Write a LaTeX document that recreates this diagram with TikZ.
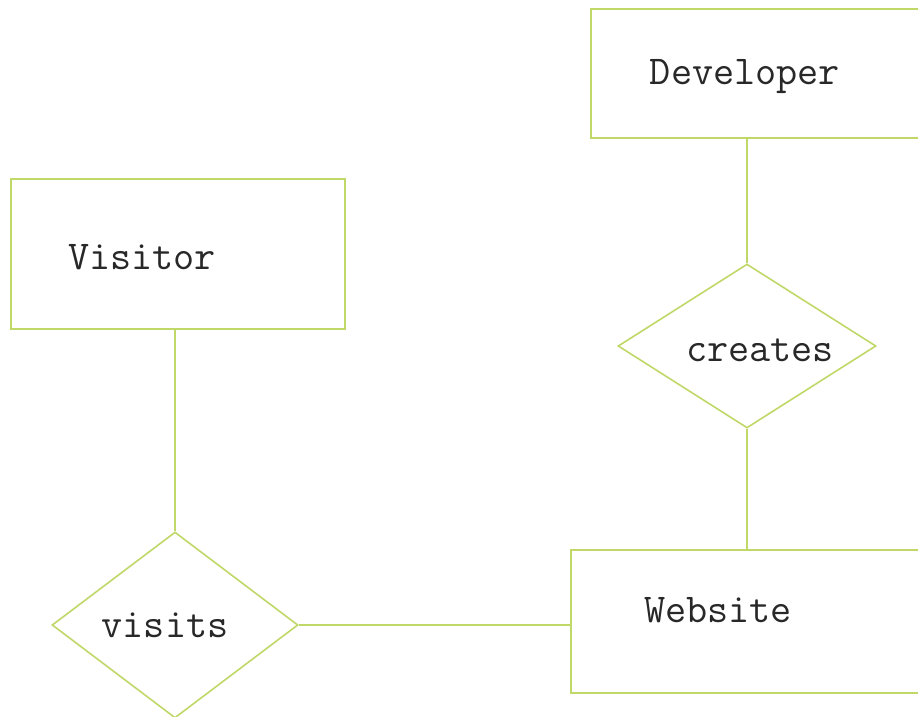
\documentclass[tikz,border=0pt]{standalone}
\usetikzlibrary{shapes.geometric}
\definecolor{erline}{RGB}{192,216,104}
\definecolor{ertext}{RGB}{40,40,40}
\begin{document}
\begin{tikzpicture}[x=1pt,y=-1pt,
  entity/.style={draw=erline,line width=2pt,rectangle,inner sep=0pt,anchor=north west},
  relation/.style={draw=erline,line width=1.6pt,diamond,inner sep=0pt},
  label text/.style={text=ertext,font=\ttfamily\fontsize{41}{45}\selectfont,inner sep=0pt},
  link/.style={draw=erline,line width=2pt}]
\fill[white] (0,0) rectangle (918,717);
\useasboundingbox (0,0) rectangle (918,717);
\clip (0,0) rectangle (918,717);

% entities
\node[entity,minimum width=370pt,minimum height=129pt] (developer) at (590,8) {};
\node[entity,minimum width=334pt,minimum height=150pt] (visitor) at (10,178) {};
\node[entity,minimum width=390pt,minimum height=143pt] (website) at (570,549) {};

% relationships
\node[relation,minimum width=258pt,minimum height=164pt] (creates) at (747,346) {};
\node[relation,minimum width=246pt,minimum height=186pt] (visits) at (175,625) {};

% connectors
\draw[link] (creates.north) -- (creates.north |- developer.south);
\draw[link] (creates.south) -- (creates.south |- website.north);
\draw[link] (visitor.south -| visits.north) -- (visits.north);
\draw[link] (visits.east) -- (visits.east -| website.west);

% labels
\node[label text] (tdev) at (745,77) {Developer};
\node[label text] (tvis) at (142,257) {Visitor};
\node[label text] (tweb) at (718,610) {Website};
\node[label text] (tcre) at (760,350) {creates};
\node[label text] (tvst) at (165,625) {visits};
\end{tikzpicture}
\end{document}
